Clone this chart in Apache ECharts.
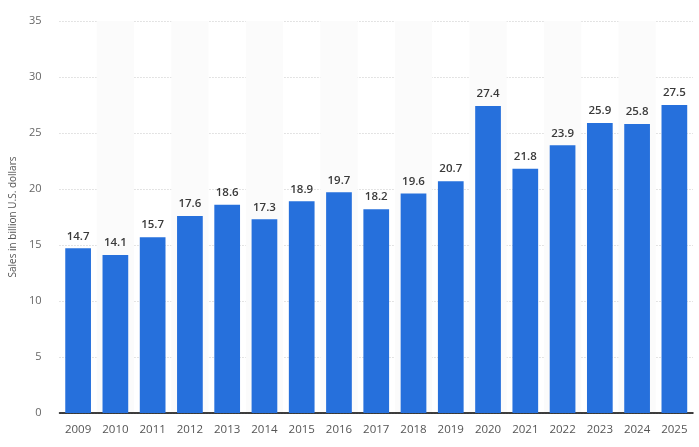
<!DOCTYPE html>
<html><head><meta charset="utf-8">
<script src="https://cdn.jsdelivr.net/npm/echarts@6/dist/echarts.min.js"></script>
<style>html,body{margin:0;padding:0;background:#fff}#c{width:699px;height:447px}</style>
</head><body><div id="c"></div>
<script>
const years = ['2009','2010','2011','2012','2013','2014','2015','2016','2017','2018','2019','2020','2021','2022','2023','2024','2025'];
const sales = [14.7,14.1,15.7,17.6,18.6,17.3,18.9,19.7,18.2,19.6,20.7,27.4,21.8,23.9,25.9,25.8,27.5];
const yTicks = [0,5,10,15,20,25,30,35];
const chart = echarts.init(document.getElementById('c'));
chart.setOption({
  animation:false,
  grid:{left:52,right:6,top:21,bottom:34},
  xAxis:{type:'category',data:years,
    axisLine:{lineStyle:{color:'#000',width:1.5}},axisTick:{show:false},
    axisLabel:{color:'#555',fontSize:11.5,fontFamily:'Open Sans',margin:11},
    splitArea:{show:true,areaStyle:{color:['rgba(255,255,255,0)','#fbfbfb']}}},
  yAxis:{type:'value',min:0,max:35,interval:5,
    name:'Sales in billion U.S. dollars',nameLocation:'middle',nameGap:41,
    nameTextStyle:{color:'#555',fontSize:10,fontFamily:'Open Sans'},
    axisLabel:{color:'#666',fontSize:11,fontFamily:'Open Sans',margin:18,
      formatter:v=>yTicks.includes(v)?String(v):''},
    splitLine:{lineStyle:{color:'#c8c8c8',type:[1,2]}}},
  series:[{type:'bar',data:sales,barWidth:'69%',
    itemStyle:{color:'#2670dc'},
    label:{show:true,position:'top',distance:6,color:'#3a3a3a',fontSize:11.5,fontWeight:600,fontFamily:'Open Sans'}}]
});
</script></body></html>
